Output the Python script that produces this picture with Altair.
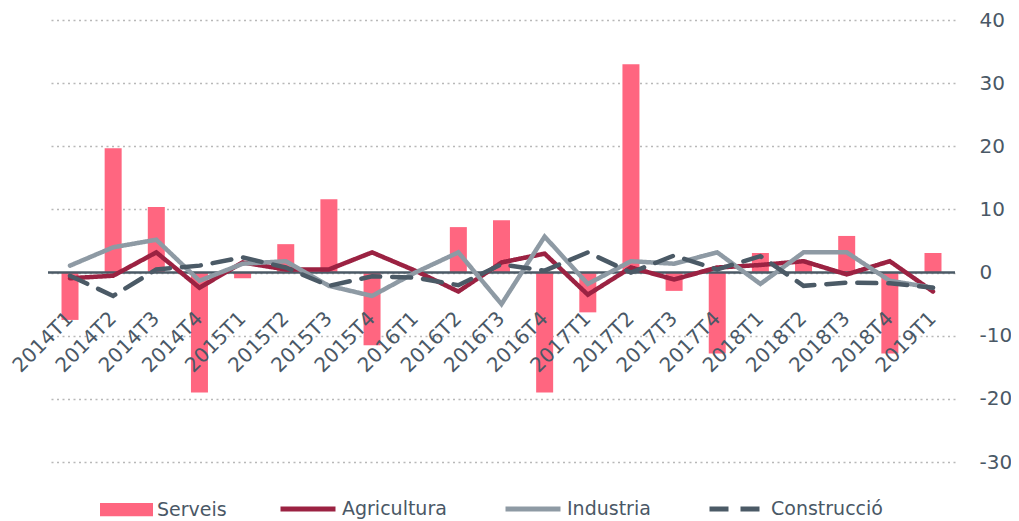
import altair as alt
import pandas as pd

quarters = ["2014T1", "2014T2", "2014T3", "2014T4",
            "2015T1", "2015T2", "2015T3", "2015T4",
            "2016T1", "2016T2", "2016T3", "2016T4",
            "2017T1", "2017T2", "2017T3", "2017T4",
            "2018T1", "2018T2", "2018T3", "2018T4",
            "2019T1"]
serveis = [-7.5, 19.7, 10.4, -19.0, -0.9, 4.5, 11.6, -11.5, 0.0, 7.2, 8.3,
           -19.0, -6.3, 33.0, -2.9, -12.8, 3.1, 1.6, 5.8, -12.8, 3.1]
agricultura = [-0.9, -0.5, 3.2, -2.4, 1.6, 0.5, 0.5, 3.2, 0.3, -3.0, 1.6,
               3.0, -3.5, 0.8, -1.1, 0.8, 1.2, 1.8, -0.3, 1.8, -3.0]
industria = [1.1, 4.0, 5.2, -1.3, 1.4, 1.8, -2.1, -3.7, 0.0, 3.2, -5.0,
             5.7, -1.8, 1.8, 1.4, 3.2, -1.8, 3.2, 3.2, -1.3, -2.4]
construccio = [-0.5, -3.7, 0.5, 1.1, 2.4, 0.8, -2.1, -0.6, -0.8, -2.0, 1.3,
               0.3, 3.2, 0.0, 2.7, 0.5, 2.6, -2.1, -1.6, -1.7, -2.4]

series_names = ["Agricultura", "Industria", "Construcció"]
series_colors = ["#9b2242", "#8e9aa4", "#4b5a66"]
bar_name = "Serveis"
bar_color = "#ff6680"
y_ticks = [-30, -20, -10, 0, 10, 20, 30, 40]

text_color = "#4a5866"
font = "DejaVu Sans"

bars_df = pd.DataFrame({"q": quarters, "v": serveis, "s1": bar_name})
lines_df = pd.concat([
    pd.DataFrame({"q": quarters, "v": vals, "serie": name, "ord": range(len(quarters))})
    for name, vals in zip(series_names, [agricultura, industria, construccio])
])
zero_df = pd.DataFrame({"v": [0]})

x_enc = alt.X("q:N", sort=quarters,
              scale=alt.Scale(paddingInner=0.6, paddingOuter=0.31),
              axis=alt.Axis(title=None, labelAngle=-45, labelFontSize=20,
                            labelColor=text_color, labelFont=font,
                            ticks=False, domain=False, grid=False,
                            offset=-190, labelPadding=36, labelOffset=-7, zindex=1))
y_scale = alt.Scale(domain=[-30, 40], nice=False, zero=False)

legend_common = dict(title=None, orient="none", labelFontSize=19,
                     labelColor=text_color, labelFont=font, labelOffset=4)

bars = alt.Chart(bars_df).mark_bar(size=17).encode(
    x=x_enc,
    y=alt.Y("v:Q", scale=y_scale,
            axis=alt.Axis(title=None, orient="right", values=y_ticks,
                          labelExpr="'' + datum.value",
                          labelFontSize=20, labelColor=text_color, labelFont=font,
                          labelAlign="left", labelPadding=24,
                          ticks=False, domain=False, grid=True,
                          gridColor="#b8b8b8", gridDash=[2, 3.5], gridWidth=1.3)),
    fill=alt.Fill("s1:N", scale=alt.Scale(domain=[bar_name], range=[bar_color]),
                  legend=alt.Legend(legendX=52, legendY=463,
                                    symbolType="M-1,-0.25H1V0.25H-1Z", symbolSize=2809,
                                    symbolStrokeWidth=0, **legend_common)),
)

zero = alt.Chart(zero_df).mark_rule(color="#4b5a66", strokeWidth=2.5).encode(
    y=alt.Y("v:Q", scale=y_scale)
)

line_legend = alt.Legend(legendX=230, legendY=459, direction="horizontal",
                         symbolType="stroke", symbolSize=3025, symbolStrokeWidth=5,
                         columnPadding=48, **legend_common)

lines = alt.Chart(lines_df).mark_line(strokeWidth=4.5, strokeCap="round").encode(
    x=alt.X("q:N", sort=quarters),
    y=alt.Y("v:Q", scale=y_scale),
    order="ord:Q",
    stroke=alt.Stroke("serie:N", sort=series_names,
                      scale=alt.Scale(domain=series_names, range=series_colors),
                      legend=line_legend),
    strokeDash=alt.StrokeDash("serie:N", sort=series_names,
                              scale=alt.Scale(domain=series_names,
                                              range=[[1, 0], [1, 0], [19, 12]]),
                              legend=line_legend),
)

chart = alt.layer(bars, zero, lines).properties(
    width=907, height=442,
    padding={"left": 40, "top": 12, "right": 56, "bottom": 59},
    autosize=alt.AutoSizeParams(type="none"),
).configure(font=font).configure_view(stroke="transparent", strokeWidth=0)

chart.save("out.html", embed_options={"renderer": "svg", "actions": False})
